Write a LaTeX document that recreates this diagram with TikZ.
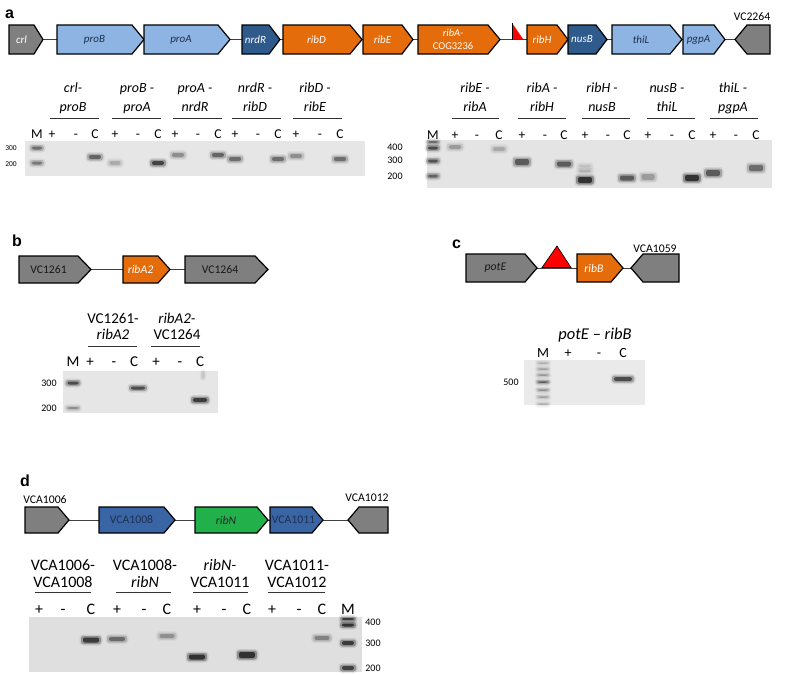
\documentclass[tikz,border=0pt]{standalone}
\usepackage{fontspec}
\setmainfont{Carlito}
\newfontfamily\pfont{Liberation Sans}
\definecolor{ggray}{HTML}{7F7F7F}
\definecolor{ltblue}{HTML}{8DB4E2}
\definecolor{dkblue}{HTML}{2F5A8C}
\definecolor{orng}{HTML}{E46C0A}
\definecolor{mdblue}{HTML}{3A65A5}
\definecolor{grn}{HTML}{22B04B}
\definecolor{navy}{HTML}{1F3050}
\definecolor{gelA}{HTML}{E6E6E6}
\definecolor{gelB}{HTML}{E4E4E4}
\definecolor{gelC}{HTML}{EAEAEA}
\definecolor{gelD}{HTML}{DFDFDF}
\newcommand\genefwd[9]{%
  \draw[genebox,fill=#7] (#2,{#4-#5}) -- ({#3-#6},{#4-#5}) -- (#3,#4) -- ({#3-#6},{#4+#5}) -- (#2,{#4+#5}) -- cycle;
  \node[#8] (#1) at ({(#2+#3-#6)/2},#4) {#9};}
\newcommand\generev[7]{%
  \draw[genebox,fill=#7] (#2,#4) -- ({#2+#6},{#4-#5}) -- (#3,{#4-#5}) -- (#3,{#4+#5}) -- ({#2+#6},{#4+#5}) -- cycle;
  \coordinate (#1) at ({(#2+#6+#3)/2},#4);}
\newcommand\band[5]{%
  \pgfmathsetmacro\boa{0.12*#5}%
  \pgfmathsetmacro\bob{0.35*#5}%
  \pgfmathsetmacro\boc{0.75*#5}%
  \fill[black,opacity=\boa,rounded corners=3.5] ({#1-#3/2-2.5},{#2-#4/2-2.5}) rectangle ({#1+#3/2+2.5},{#2+#4/2+2.5});
  \fill[black,opacity=\bob,rounded corners=2.5] ({#1-#3/2-1},{#2-#4/2-1}) rectangle ({#1+#3/2+1},{#2+#4/2+1});
  \fill[black,opacity=\boc,rounded corners=2] ({#1-#3/2+1},{#2-#4/2+0.5}) rectangle ({#1+#3/2-1},{#2+#4/2-0.5});}
\begin{document}
\begin{tikzpicture}[x=1pt,y=-1pt,
  genebox/.style={draw=black,line width=1.2pt,line join=miter},
  conn/.style={draw=black!75,line width=0.9pt},
  uline/.style={draw=black!80,line width=0.9pt},
  gA/.style={font=\fontsize{11}{12}\selectfont\itshape,text=white,inner sep=0},
  gAd/.style={gA,text=navy},
  gB/.style={font=\fontsize{11.7}{13}\selectfont,inner sep=0,text=black!90},
  plet/.style={font={\pfont\fontsize{16}{18}\selectfont\bfseries},anchor=base west,inner sep=0},
  toplab/.style={font=\fontsize{11.7}{13}\selectfont,anchor=base,inner sep=0},
  grpA/.style={font=\fontsize{14}{16}\selectfont\itshape,anchor=base,inner sep=0},
  grpB/.style={font=\fontsize{15}{17}\selectfont,anchor=base,inner sep=0},
  grpD/.style={font=\fontsize{16}{18}\selectfont,anchor=base,inner sep=0},
  laneA/.style={font=\fontsize{13.5}{15}\selectfont,anchor=base,inner sep=0},
  laneB/.style={font=\fontsize{15}{17}\selectfont,anchor=base,inner sep=0},
  laneC/.style={font=\fontsize{14}{15}\selectfont,anchor=base,inner sep=0},
  laneD/.style={font=\fontsize{16}{18}\selectfont,anchor=base,inner sep=0},
  sizeS/.style={font=\fontsize{7.5}{8}\selectfont,inner sep=0},
  sizeL/.style={font=\fontsize{10}{11}\selectfont,inner sep=0}
]
\useasboundingbox (0,0) rectangle (785,675);

% ================= panel a =================
\node[plet] (pa) at (5,18.3) {a};
\coordinate (aL) at (43,39.5);
\coordinate (aR) at (735,39.5);
\draw[conn] (aL) -- (aR);
\genefwd{crl}{9}{43}{39.5}{14.5}{9}{ggray}{gA}{crl}
\genefwd{proB}{57}{144}{39.5}{14.5}{12}{ltblue}{gAd}{proB}
\genefwd{proA}{144}{230}{39.5}{14.5}{12}{ltblue}{gAd}{proA}
\genefwd{nrdR}{242}{280}{39.5}{14.5}{11}{dkblue}{gA}{nrdR}
\genefwd{ribD}{283}{362}{39.5}{14.5}{12}{orng}{gA}{ribD}
\genefwd{ribE}{363}{413}{39.5}{14.5}{11}{orng}{gA}{ribE}
\genefwd{ribA}{418}{500}{39.5}{14.5}{12}{orng}{gA,align=center,font=\fontsize{10.5}{13}\selectfont}{\textit{ribA-}\\COG3236}
\genefwd{ribH}{527}{568}{39.5}{14.5}{11}{orng}{gA}{ribH}
\genefwd{nusB}{568}{607}{39.5}{14.5}{11}{dkblue}{gA}{nusB}
\genefwd{thiL}{612}{682}{39.5}{14.5}{12}{ltblue}{gAd}{thiL}
\genefwd{pgpA}{683}{725}{39.5}{14.5}{11}{ltblue}{gAd}{pgpA}
\generev{vc2264}{735}{770}{39.5}{14.5}{12}{ggray}
\node[toplab] (lvc2264) at (752,20.7) {VC2264};
\fill[red] (512,23) -- (512,39) -- (523,39) -- cycle;
\draw[black,line width=0.8pt] (512,23) -- (512,39.5);

% gel a left
\node[grpA] (ga1t) at (73,92.3) {crl-};
\node[grpA] (ga1b) at (73,111.3) {proB};
\node[grpA] (ga2t) at (137,92.3) {proB -};
\node[grpA] (ga2b) at (137,111.3) {proA};
\node[grpA] (ga3t) at (195,92.3) {proA -};
\node[grpA] (ga3b) at (195,111.3) {nrdR};
\node[grpA] (ga4t) at (255,92.3) {nrdR -};
\node[grpA] (ga4b) at (255,111.3) {ribD};
\node[grpA] (ga5t) at (315,92.3) {ribD -};
\node[grpA] (ga5b) at (315,111.3) {ribE};
\foreach \a/\b in {50/99,112/161,173/222,232/281,293/342}
  {\draw[uline] (\a,118) -- (\b,118);}
\foreach \x/\t [count=\i] in {37/M,52/+,76/-,95/C,115/+,138/-,158/C,175/+,198/-,218/C,235/+,258/-,278/C,296/+,320/-,340/C}
  {\node[laneA] (la\i) at (\x,138.5) {\t};}
\fill[gelA] (25,141) rectangle (365,176);
\node[sizeS] (sa300) at (11,148) {300};
\node[sizeS] (sa200) at (11,164) {200};
\band{37}{148}{12}{4}{0.5}
\band{37}{163}{12}{4}{0.45}
\band{95}{157}{14}{5}{0.55}
\band{115}{163}{13}{5}{0.22}
\band{158}{163}{14}{5}{0.75}
\band{178}{155}{14}{5}{0.35}
\band{218}{155}{14}{5}{0.55}
\band{235}{159}{14}{5}{0.5}
\band{278}{159}{14}{5}{0.5}
\band{296}{156}{14}{5}{0.35}
\band{340}{159}{14}{5}{0.5}

% gel a right
\node[grpA] (gb1t) at (475,92.3) {ribE -};
\node[grpA] (gb1b) at (475,111.3) {ribA};
\node[grpA] (gb2t) at (542,92.3) {ribA -};
\node[grpA] (gb2b) at (542,111.3) {ribH};
\node[grpA] (gb3t) at (602,92.3) {ribH -};
\node[grpA] (gb3b) at (602,111.3) {nusB};
\node[grpA] (gb4t) at (667,92.3) {nusB -};
\node[grpA] (gb4b) at (667,111.3) {thiL};
\node[grpA] (gb5t) at (733,92.3) {thiL -};
\node[grpA] (gb5b) at (733,111.3) {pgpA};
\foreach \a/\b in {452/499,518/566,582/630,647/695,710/758}
  {\draw[uline] (\a,118) -- (\b,118);}
\foreach \x/\t [count=\i] in {433/M,455/+,477/-,499/C,522/+,545/-,564/C,585/+,608/-,627/C,648/+,672/-,692/C,713/+,736/-,756/C}
  {\node[laneA] (lb\i) at (\x,139) {\t};}
\fill[gelB] (427,140) rectangle (772,188);
\node[sizeL] (sb400) at (395,147) {400};
\node[sizeL] (sb300) at (395,160) {300};
\node[sizeL] (sb200) at (395,176) {200};
\band{433}{142}{12}{3}{0.5}
\band{433}{148}{12}{4}{0.7}
\band{433}{161}{12}{4}{0.65}
\band{433}{176}{12}{4}{0.55}
\band{455}{147}{14}{5}{0.28}
\band{499}{149}{14}{5}{0.22}
\band{522}{162}{16}{7}{0.6}
\band{564}{164}{16}{6}{0.6}
\band{585}{166}{14}{4}{0.12}
\band{585}{171}{14}{4}{0.18}
\band{585}{180}{16}{7}{0.85}
\band{627}{178}{16}{6}{0.6}
\band{648}{177}{15}{7}{0.28}
\band{692}{178}{16}{7}{0.85}
\band{713}{173}{16}{7}{0.6}
\band{756}{168}{16}{7}{0.5}

% ================= panel b =================
\node[plet] (pb) at (12,246.7) {b};
\coordinate (bL) at (91,269.5);
\coordinate (bR) at (185,269.5);
\draw[conn] (bL) -- (bR);
\genefwd{vc1261}{19}{91}{269.5}{13.5}{13}{ggray}{gB}{VC1261}
\genefwd{ribA2}{123}{170}{269.5}{13.5}{12}{orng}{gB,text=white,font=\fontsize{11.7}{13}\selectfont\itshape}{ribA2}
\genefwd{vc1264}{185}{268}{269.5}{13.5}{13}{ggray}{gB}{VC1264}
\node[grpB] (gc1t) at (113,323.3) {VC1261-};
\node[grpB] (gc1b) at (113,339.5) {\textit{ribA2}};
\node[grpB] (gc2t) at (177,323.3) {\textit{ribA2-}};
\node[grpB] (gc2b) at (177,339.5) {VC1264};
\draw[uline] (88,346) -- (137,346);
\draw[uline] (151,346) -- (200,346);
\foreach \x/\t [count=\i] in {73/M,90/+,114/-,134/C,156/+,180/-,200/C}
  {\node[laneB] (lc\i) at (\x,366.5) {\t};}
\fill[gelA] (63,371) rectangle (218,413);
\node[sizeL] (sc300) at (49,383) {300};
\node[sizeL] (sc200) at (49,408) {200};
\band{73}{383}{13}{4}{0.7}
\band{73}{408}{13}{3}{0.35}
\band{138}{388}{16}{4}{0.7}
\band{200}{400}{16}{5}{0.8}
\band{203}{375}{2}{7}{0.25}

% ================= panel c =================
\node[plet] (pc) at (452,248.3) {c};
\coordinate (cL) at (537,268);
\coordinate (cR) at (631,268);
\draw[conn] (cL) -- (cR);
\genefwd{potE}{466}{537}{268}{14}{12}{ggray}{gB,font=\fontsize{11.7}{13}\selectfont\itshape}{potE}
\coordinate (tri) at (557,246);
\draw[draw=black,line width=0.6pt,fill=red] (542,267.5) -- (tri) -- (571,267.5) -- cycle;
\genefwd{ribB}{577}{623}{268}{14}{12}{orng}{gB,text=white,font=\fontsize{11.7}{13}\selectfont\itshape}{ribB}
\generev{vca1059}{631}{679}{268}{14}{12}{ggray}
\node[toplab] (lvca1059) at (655,252.3) {VCA1059};
\node[font=\fontsize{16.5}{18}\selectfont,anchor=base,inner sep=0] (gd1) at (595,339) {\textit{potE} – \textit{ribB}};
\foreach \x/\t [count=\i] in {543/M,568/+,599/-,623/C}
  {\node[laneC] (ld\i) at (\x,357) {\t};}
\fill[gelC] (524,360) rectangle (645,405);
\node[sizeL] (sd500) at (511,382) {500};
\foreach \y/\o in {363/0.22,369/0.28,375/0.32,382/0.6,390/0.35,397/0.28,404/0.22}
  {\band{543}{\y}{12}{2.5}{\o}}
\band{623}{379}{20}{5}{0.7}

% ================= panel d =================
\node[plet] (pd) at (20,486) {d};
\coordinate (dL) at (69,520);
\coordinate (dR) at (348,520);
\draw[conn] (dL) -- (dR);
\genefwd{vca1006}{25}{69}{520}{13}{11}{ggray}{gB}{}
\genefwd{vca1008}{99}{175}{520}{13}{11}{mdblue}{gB,text=navy}{VCA1008}
\genefwd{ribN}{195}{268}{520}{13}{11}{grn}{gB,text=black!85,font=\fontsize{11.7}{13}\selectfont\itshape}{ribN}
\genefwd{vca1011}{270}{323}{520}{13}{11}{mdblue}{gB,text=navy,xshift=2.5}{VCA1011}
\generev{vca1012}{348}{388}{520}{13}{11}{ggray}
\node[toplab] (lvca1006) at (45,503.3) {VCA1006};
\node[toplab] (lvca1012) at (367,501.7) {VCA1012};
\node[grpD] (ge1t) at (63,570) {VCA1006-};
\node[grpD] (ge1b) at (63,587.3) {VCA1008};
\node[grpD] (ge2t) at (145,570) {VCA1008-};
\node[grpD] (ge2b) at (145,587.3) {\textit{ribN}};
\node[grpD] (ge3t) at (220,570) {\textit{ribN-}};
\node[grpD] (ge3b) at (220,587.3) {VCA1011};
\node[grpD] (ge4t) at (297,570) {VCA1011-};
\node[grpD] (ge4b) at (297,587.3) {VCA1012};
\foreach \a/\b in {35/91,116/171,193/248,268/325}
  {\draw[uline] (\a,592) -- (\b,592);}
\foreach \x/\t [count=\i] in {39/+,63/-,91/C,117/+,144/-,167/C,197/+,224/-,247/C,272/+,299/-,322/C,348/M}
  {\node[laneD] (le\i) at (\x,614) {\t};}
\fill[gelD] (29,617) rectangle (362,672);
\node[sizeL] (se400) at (373,622) {400};
\node[sizeL] (se300) at (373,643) {300};
\node[sizeL] (se200) at (373,668) {200};
\band{348}{619}{14}{3}{0.8}
\band{348}{625}{14}{4}{0.85}
\band{348}{643}{14}{5}{0.8}
\band{348}{668}{14}{5}{0.75}
\band{91}{640}{18}{6}{0.8}
\band{117}{639}{18}{5}{0.5}
\band{167}{636}{17}{5}{0.32}
\band{197}{657}{18}{6}{0.85}
\band{247}{655}{18}{7}{0.85}
\band{322}{638}{17}{5}{0.38}
\end{tikzpicture}
\end{document}
